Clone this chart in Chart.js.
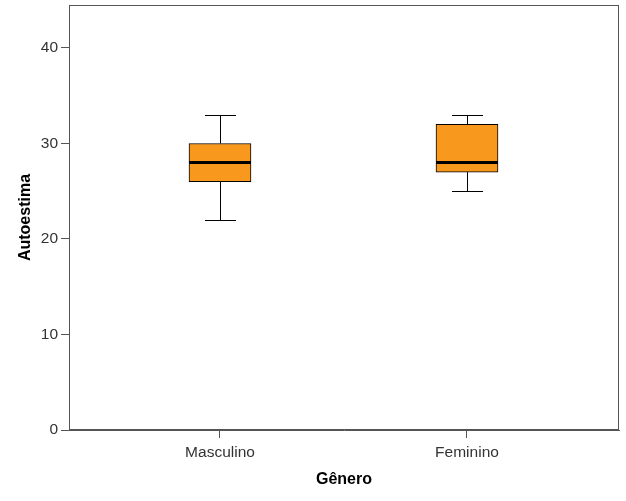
<!DOCTYPE html>
<html>
<head>
<meta charset="utf-8">
<script src="https://cdn.jsdelivr.net/npm/chart.js@4/dist/chart.umd.min.js"></script>
<style>
  html, body { margin: 0; padding: 0; background: #fff; }
  #wrap { width: 626px; height: 501px; }
</style>
</head>
<body>
<div id="wrap"><canvas id="c" width="626" height="501"></canvas></div>
<script>
const categories = ['Masculino', 'Feminino'];
const minVals = [22, 25];
const q1Vals = [26, 27];
const medianVals = [28, 28];
const q3Vals = [30, 32];
const maxVals = [33, 33];
const yTicks = [0, 10, 20, 30, 40];

const AXIS_COLOR = '#555555';
const TEXT_COLOR = '#333333';
const BOX_FILL = '#F8981D';

const boxPlugin = {
  id: 'boxParts',
  beforeDatasetsDraw(chart) {
    const {ctx, scales: {x, y}} = chart;
    ctx.save();
    ctx.strokeStyle = '#000';
    ctx.lineWidth = 1;
    categories.forEach((c, i) => {
      const cx = Math.round(x.getPixelForValue(i)) + 0.5;
      const half = 15.5;
      const yMin = Math.round(y.getPixelForValue(minVals[i])) + 0.5;
      const yMax = Math.round(y.getPixelForValue(maxVals[i])) + 0.5;
      const yQ1 = y.getPixelForValue(q1Vals[i]);
      const yQ3 = y.getPixelForValue(q3Vals[i]);
      ctx.beginPath();
      ctx.moveTo(cx, yMin); ctx.lineTo(cx, yQ1);
      ctx.moveTo(cx, yQ3); ctx.lineTo(cx, yMax);
      ctx.moveTo(cx - half, yMin); ctx.lineTo(cx + half, yMin);
      ctx.moveTo(cx - half, yMax); ctx.lineTo(cx + half, yMax);
      ctx.stroke();
    });
    ctx.restore();
  },
  afterDatasetsDraw(chart) {
    const {ctx, scales: {x, y}} = chart;
    const meta = chart.getDatasetMeta(0);
    ctx.save();
    ctx.strokeStyle = '#000';
    ctx.lineWidth = 3;
    categories.forEach((c, i) => {
      const bar = meta.data[i];
      const half = bar.width / 2;
      const ym = y.getPixelForValue(medianVals[i]);
      ctx.beginPath();
      ctx.moveTo(bar.x - half, ym); ctx.lineTo(bar.x + half, ym);
      ctx.stroke();
    });
    const a = chart.chartArea;
    ctx.strokeStyle = AXIS_COLOR;
    ctx.lineWidth = 1;
    ctx.strokeRect(Math.round(a.left) + 0.5, Math.round(a.top) + 0.5,
                   Math.round(a.right - a.left) - 1, Math.round(a.bottom - a.top) - 1);
    ctx.restore();
  }
};

new Chart(document.getElementById('c'), {
  type: 'bar',
  data: {
    datasets: [{
      data: categories.map((c, i) => ({x: i, y: [q1Vals[i], q3Vals[i]]})),
      backgroundColor: BOX_FILL,
      borderColor: '#000',
      borderWidth: 1,
      borderSkipped: false,
      barThickness: 62
    }]
  },
  options: {
    responsive: false,
    animation: false,
    layout: { padding: { top: 5, right: 7, left: 0, bottom: 0 } },
    plugins: { legend: { display: false }, tooltip: { enabled: false } },
    scales: {
      x: {
        type: 'linear',
        offset: false,
        min: -0.6113,
        max: 1.6154,
        afterBuildTicks: (s) => { s.ticks = categories.map((c, i) => ({value: i})); },
        afterFit: (s) => { s.height = 71; s.paddingLeft = 0; s.paddingRight = 0; },
        grid: { display: true, offset: false, drawOnChartArea: false, drawTicks: true, tickLength: 8, color: AXIS_COLOR },
        border: { display: true, color: AXIS_COLOR },
        ticks: {
          padding: 5,
          color: TEXT_COLOR,
          font: { family: 'Liberation Sans, Arial, sans-serif', size: 15.5 },
          maxRotation: 0,
          callback: (v) => categories[v]
        },
        title: {
          display: true,
          text: 'Gênero',
          color: '#000',
          font: { family: 'Liberation Sans, Arial, sans-serif', size: 16, weight: 'bold' },
          padding: { top: 4, bottom: 11.5 }
        }
      },
      y: {
        type: 'linear',
        min: 0,
        max: 44.5,
        afterBuildTicks: (s) => { s.ticks = yTicks.map(v => ({value: v})); },
        afterFit: (s) => { s.width = 69; s.paddingTop = 0; s.paddingBottom = 0; },
        grid: { display: true, drawOnChartArea: false, drawTicks: true, tickLength: 8, color: AXIS_COLOR },
        border: { display: true, color: AXIS_COLOR },
        ticks: {
          padding: 3,
          color: TEXT_COLOR,
          font: { family: 'Liberation Sans, Arial, sans-serif', size: 15.5 }
        },
        title: {
          display: true,
          text: 'Autoestima',
          color: '#000',
          font: { family: 'Liberation Sans, Arial, sans-serif', size: 16, weight: 'bold' },
          padding: { top: 15.5, bottom: 4 }
        }
      }
    }
  },
  plugins: [boxPlugin]
});
</script>
</body>
</html>
